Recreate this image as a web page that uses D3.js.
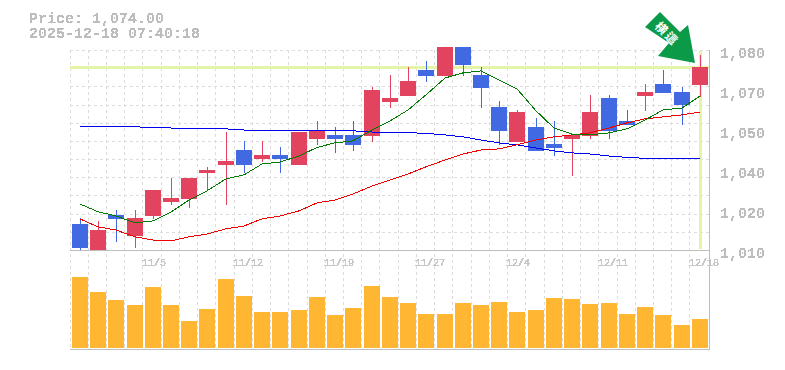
<!DOCTYPE html>
<html><head><meta charset="utf-8">
<script src="https://cdn.jsdelivr.net/npm/d3@7/dist/d3.min.js"></script>
<style>html,body{margin:0;background:#fff}svg{display:block}text{font-family:"Liberation Mono","DejaVu Sans Mono",monospace}</style>
</head><body><svg id="c" width="785" height="370"></svg>
<script>
const dates=["11/5","11/12","11/19","11/27","12/4","12/11","12/18"];
const dateIdx=[4,9,14,19,24,29,34];
const priceTicks=[1080,1066,1052,1038,1024,1010];
const priceLabels=["1,080","1,070","1,050","1,040","1,020","1,010"];
const opens=[1019.1,1010,1022.3,1014.9,1021.9,1026.8,1027.9,1037,1039.8,1045,1041.9,1043.3,1039.8,1048.9,1050.3,1050.3,1049.9,1061.8,1063.9,1073,1070.9,1081,1071.3,1060,1047.8,1053,1047.1,1048.9,1049.9,1063.2,1055.2,1063.9,1068.1,1065.3,1067.8];
const closes=[1010.8,1017,1020.9,1021.2,1031,1028.2,1035.2,1038,1041.2,1039.8,1043.3,1041.9,1051.3,1052,1048.9,1046.8,1066,1063.2,1069.2,1070.9,1081,1074.8,1066.7,1051.7,1058.3,1044.7,1045.7,1050.3,1058.3,1051.7,1053.8,1065.3,1065,1060.8,1074];
const highs=[1021.2,1020.2,1024,1024,1031,1035.2,1035.2,1039,1051.3,1048.2,1048.2,1046,1051.3,1055.2,1053,1055.2,1067,1071.3,1074,1076.2,1081,1081,1074,1062.2,1059,1056.2,1055.2,1050.3,1064.3,1064.3,1059,1068.1,1073,1067,1078.3];
const lows=[1010,1010,1012.9,1010.8,1020.9,1025.8,1024.7,1030.7,1025.8,1037,1040.8,1037,1039.8,1046.8,1044,1044.7,1047.8,1059.7,1063.9,1068.8,1070.9,1070.9,1059.7,1046.8,1047.8,1044.7,1042.9,1035.9,1048.9,1048.9,1053.8,1058.7,1065,1053.8,1063.6];
const maShort=[1026.1,1023.4,1021.9,1019.5,1020.2,1023.3,1027.5,1030.7,1034.9,1036.3,1040.1,1040.8,1042.9,1045.9,1047.5,1048.2,1052,1055.2,1059,1064.3,1070.2,1072,1072.7,1069.5,1066.4,1058.7,1052.7,1050.6,1050.3,1051,1052.4,1055.5,1059,1059.7,1063.9];
const maMid=[1020.9,1018.1,1017,1014.6,1013.5,1013.2,1014.6,1015.6,1017.4,1018.4,1020.9,1021.9,1023.7,1026.5,1027.5,1029.6,1032.4,1034.5,1036.6,1039.1,1041.5,1043.6,1045,1045.4,1046.8,1048.5,1049.6,1050.3,1051,1052.7,1054.5,1055.9,1056.6,1057.3,1058.3];
const maLong=[1053.1,1053.1,1053.1,1053.1,1052.9,1052.7,1052.5,1052.4,1052.4,1052,1052,1052,1052,1051.8,1051.7,1051.7,1051.3,1051.3,1051.1,1050.8,1050.3,1049.6,1048.5,1047.5,1046.8,1045.7,1044.7,1044,1043.6,1042.9,1042.4,1042.1,1042.1,1042.1,1042.1];
const volumes=[71,56,48,43,61,43,27,39,69,52,36,36,38,51,33,40,62,51,45,34,34,45,43,46,36,38,50,49,44,45,34,41,33,23,29];
const lastPrice=1074;
const caption=["Price: 1,074.00","2025-12-18 07:40:18"];
const signal="横這";

const svg=d3.select("#c");
const idx=d3.range(opens.length);
const L=70,R=710,T=50,B=250,VB=350;
const x=d3.scaleBand().domain(idx).range([L,L+18.235*35]);
const cx=i=>x(i)+x.bandwidth()/2+.7;
const y=d3.scaleLinear().domain([1010,1080]).range([B,T]);
const yv=d3.scaleLinear().domain([0,100]).range([348,248]);
const GRID="#dcdcdc",AX="#bdbdbd",TXT="#bdbdbd",HL="#e4f5a8",UP="#e2435f",DN="#4169e1";

const defs=svg.append("defs");
const mk=(id,t)=>defs.append("filter").attr("id",id).attr("color-interpolation-filters","sRGB")
 .attr("x","-5%").attr("y","-20%").attr("width","110%").attr("height","140%")
 .append("feComponentTransfer").append("feFuncA").attr("type","discrete").attr("tableValues",t);
mk("crisp","0 0 1 1 1");
mk("crispSmall","0 1 1 1 1");

// grid
const g=svg.append("g").attr("stroke",GRID).attr("stroke-dasharray","3 3").attr("shape-rendering","crispEdges");
g.selectAll(".h").data(d3.range(12)).join("line").attr("x1",L).attr("x2",R)
 .attr("y1",i=>Math.round(T+i*200/11)+.5).attr("y2",i=>Math.round(T+i*200/11)+.5);
g.selectAll(".v").data(d3.range(35)).join("line").attr("y1",T).attr("y2",VB)
 .attr("x1",i=>Math.floor(x(i))+.5).attr("x2",i=>Math.floor(x(i))+.5);

// highlight cross
const hl=svg.append("g").attr("stroke",HL).attr("stroke-width",3).attr("shape-rendering","crispEdges");
hl.append("line").attr("x1",L).attr("x2",R).attr("y1",Math.round(y(lastPrice))+.5).attr("y2",Math.round(y(lastPrice))+.5);
hl.append("line").attr("x1",Math.round(cx(34))+.5).attr("x2",Math.round(cx(34))+.5).attr("y1",T+1).attr("y2",B-1);

// frame
const f=svg.append("g").attr("stroke",AX).attr("shape-rendering","crispEdges");
f.append("line").attr("x1",L).attr("x2",R).attr("y1",B+.5).attr("y2",B+.5);
f.append("line").attr("x1",L).attr("x2",R).attr("y1",VB-.5).attr("y2",VB-.5);
f.append("line").attr("x1",R-.5).attr("x2",R-.5).attr("y1",T).attr("y2",VB);

// volume
svg.selectAll(".vol").data(volumes).join("rect").attr("fill","#ffb733")
 .attr("x",(d,i)=>Math.round(cx(i))-8).attr("width",16)
 .attr("y",d=>yv(d)).attr("height",d=>yv(0)-yv(d));

// candles
const col=i=>closes[i]>=opens[i]?UP:DN;
const c=svg.append("g").attr("shape-rendering","crispEdges");
c.selectAll(".w").data(idx).join("line").attr("stroke",col).attr("stroke-width",1)
 .attr("x1",i=>Math.round(cx(i))+.5).attr("x2",i=>Math.round(cx(i))+.5)
 .attr("y1",i=>y(highs[i])).attr("y2",i=>y(lows[i]));
c.selectAll(".b").data(idx).join("rect").attr("fill",col)
 .attr("x",i=>Math.round(cx(i))-8).attr("width",16)
 .attr("y",i=>y(Math.max(opens[i],closes[i])))
 .attr("height",i=>Math.abs(y(opens[i])-y(closes[i])));

// moving averages
const ln=d3.line().x((d,i)=>Math.round(cx(i))).y(d=>y(d));
[[maLong,"#0000f0"],[maMid,"#f00000"],[maShort,"#007a00"]].forEach(([a,s])=>
 svg.append("path").attr("d",ln(a)).attr("fill","none").attr("stroke",s).attr("stroke-width",1).attr("shape-rendering","crispEdges"));

// labels
const tg=svg.append("g").attr("filter","url(#crisp)");
tg.selectAll(".pl").data(priceTicks).join("text").attr("x",720).attr("y",d=>y(d)+7.5)
 .attr("font-size",15).attr("font-weight",700).attr("fill",TXT).text((d,i)=>priceLabels[i]);
tg.selectAll(".cap").data(caption).join("text").attr("x",29).attr("y",(d,i)=>23+i*15)
 .attr("font-size",15).attr("font-weight",700).attr("fill",TXT).text(d=>d);
svg.append("g").attr("filter","url(#crispSmall)").selectAll(".dl").data(dates).join("text")
 .attr("x",(d,i)=>Math.round(cx(dateIdx[i]))-11).attr("y",266)
 .attr("font-size",10).attr("fill","#c8c8c8").text(d=>d);

// signal arrow
const A=svg.append("g");
A.append("path").attr("fill","#0a9a48").attr("d",d3.line()([[660,12],[645,27],[669,43],[658,56],[695,63],[688,25],[680,32]]));
A.append("text").attr("transform","translate(664,37) rotate(45)").attr("text-anchor","middle")
 .attr("font-size",12).attr("font-weight",700).attr("fill","#fff").attr("letter-spacing",2)
 .style("font-family","'Noto Sans CJK JP'").text(signal);
</script></body></html>
